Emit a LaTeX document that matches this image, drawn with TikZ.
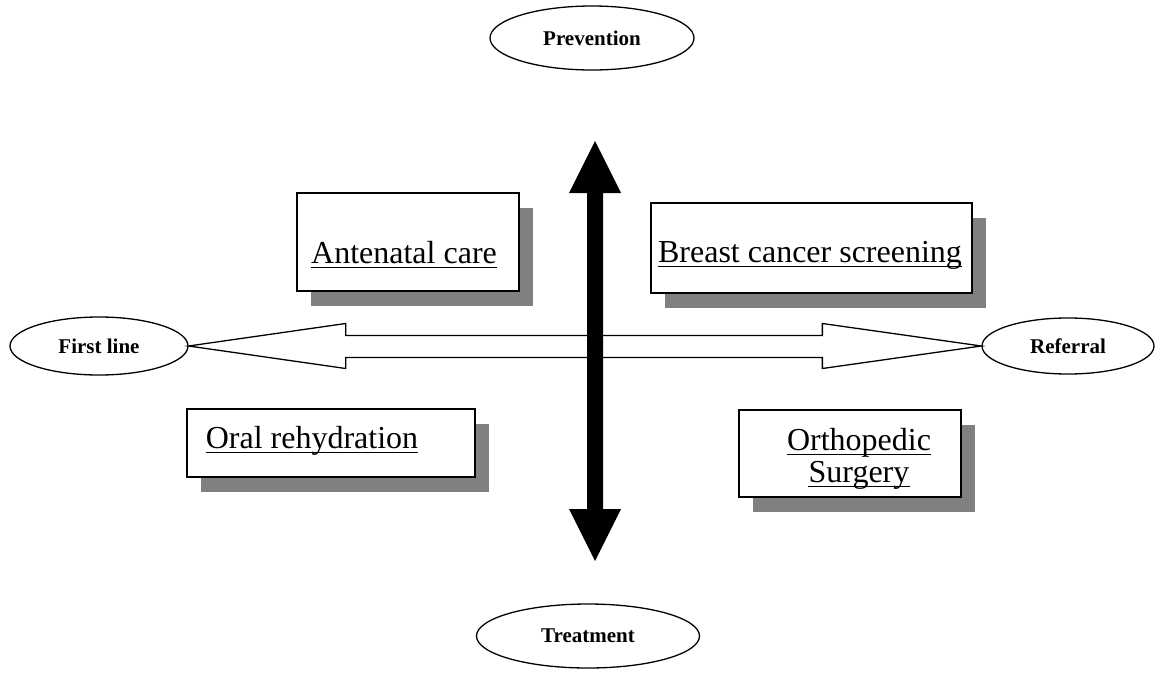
\documentclass[tikz,border=0pt]{standalone}
\usepackage{fontspec}
\setmainfont{Liberation Serif}
\usetikzlibrary{shapes.geometric,shadows,calc}
\begin{document}
\begin{tikzpicture}[x=1pt,y=-1pt,
  oval/.style={draw,ellipse,line width=1.3pt,inner sep=0pt,font=\fontsize{21}{21}\selectfont\bfseries},
  card/.style={draw,fill=white,line width=1.4pt,inner sep=0pt,
    drop shadow={shadow xshift=14pt,shadow yshift=-15pt,fill=black!50,opacity=1}},
  lbl/.style={inner sep=0pt,anchor=base,font=\fontsize{32}{32}\selectfont},
  uline/.style={line width=1.8pt},
  bigarrow/.style={draw,fill=white,line width=1.3pt,line join=miter},
  solidarrow/.style={fill=black}]
\useasboundingbox (0,0) rectangle (1156,672);

% ellipses
\node[oval,minimum width=204,minimum height=64] (prev) at (592,38) {Prevention};
\node[oval,minimum width=223,minimum height=64] (treat) at (588,636) {Treatment};
\node[oval,minimum width=178,minimum height=58] (fl) at (99,346) {First line};
\node[oval,minimum width=172,minimum height=56] (ref) at (1068,346) {Referral};

% boxes
\node[card,minimum width=222,minimum height=98] (ante) at (408,242) {};
\node[card,minimum width=321,minimum height=90] (breast) at (811.5,248) {};
\node[card,minimum width=288,minimum height=68] (oral) at (331,443) {};
\node[card,minimum width=222,minimum height=87] (ortho) at (850,453.5) {};

% labels
\node[lbl] (tante) at (404,263) {Antenatal care};
\node[lbl] (tbreast) at (810,262) {Breast cancer screening};
\node[lbl] (toral) at (312,448) {Oral rehydration};
\node[lbl] (tortho1) at (859,450) {Orthopedic};
\node[lbl] (tortho2) at (859,482) {Surgery};
\foreach \t in {tante,tbreast,toral,tortho1,tortho2}
  \draw[uline] ([yshift=-4.5pt]\t.base west) -- ([yshift=-4.5pt]\t.base east);

% horizontal double arrow (outlined)
\coordinate (L) at (fl.east);
\coordinate (R) at (ref.west);
\draw[bigarrow] (L) -- ($(L)+(157,-22.5)$) -- ($(L)+(157,-10.5)$)
  -- ($(R)+(-159,-10.5)$) -- ($(R)+(-159,-22.5)$) -- (R)
  -- ($(R)+(-159,22.5)$) -- ($(R)+(-159,11.5)$)
  -- ($(L)+(157,11.5)$) -- ($(L)+(157,22.5)$) -- cycle;

% vertical double arrow (solid)
\coordinate (vt) at (595,141);
\coordinate (vb) at (595,561);
\fill[solidarrow] (vt) -- ($(vt)+(26,52)$) -- ($(vt)+(8,52)$)
  -- ($(vb)+(8,-52)$) -- ($(vb)+(26,-52)$) -- (vb)
  -- ($(vb)+(-26,-52)$) -- ($(vb)+(-8,-52)$)
  -- ($(vt)+(-8,52)$) -- ($(vt)+(-26,52)$) -- cycle;
\end{tikzpicture}
\end{document}
